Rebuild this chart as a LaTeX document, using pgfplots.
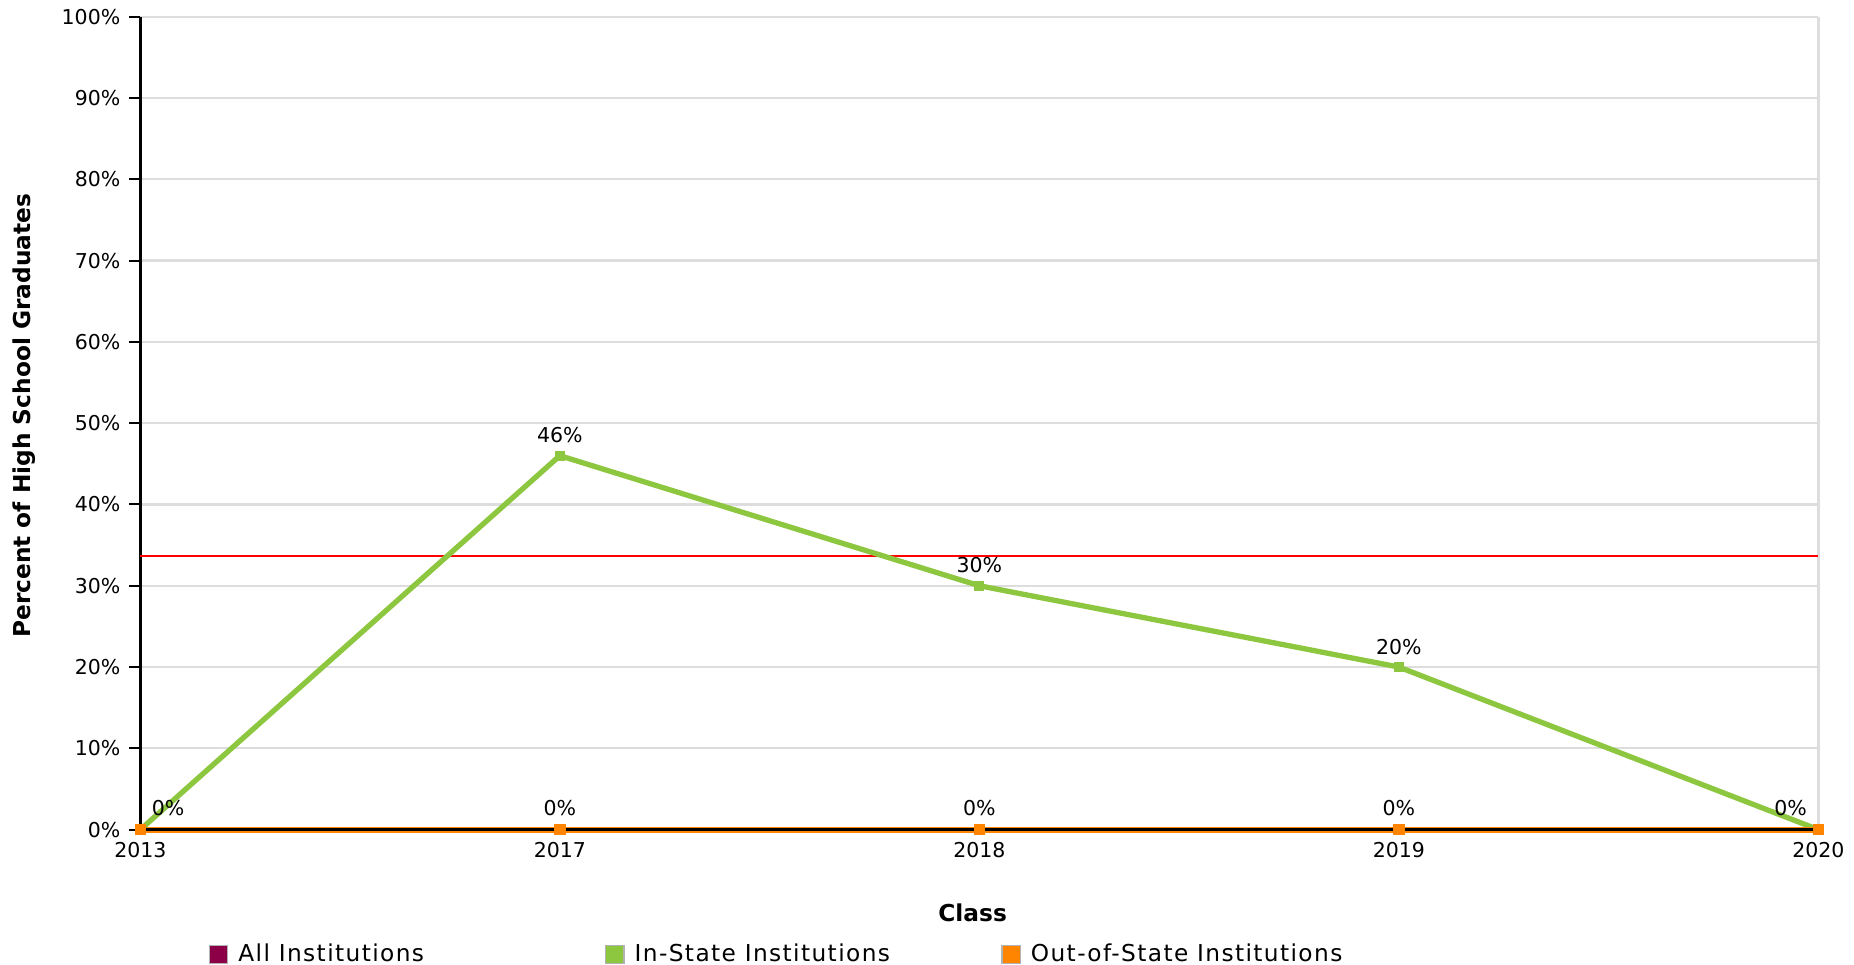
\documentclass[border=0pt]{standalone}
\usepackage{pgfplots}
\pgfplotsset{compat=1.18}
\usepackage{pgfplotstable}
\usepackage{fontspec}
\setmainfont{DejaVu Sans}
\newfontfamily\legendfont[LetterSpace=6]{DejaVu Sans}
\definecolor{allInst}{HTML}{8C0048}
\definecolor{inState}{HTML}{8DC63F}
\definecolor{outState}{HTML}{FF8400}
\definecolor{gridGray}{HTML}{DDDDDD}

% categories at 0..4: 2013, 2017, 2018, 2019, 2020
\pgfplotstableread{
x all instate outstate dx
0 0 0 0 11
1 0 46 0 0
2 0 30 0 0
3 0 20 0 0
4 0 0 0 -11
}\rates

\begin{document}
\begin{tikzpicture}
\begin{axis}[
    scale only axis,
    width=663.6pt,
    height=321.5pt,
    xmin=0, xmax=4,
    ymin=0, ymax=100,
    clip=false,
    axis x line*=bottom,
    axis y line*=left,
    axis line style={black, line width=1pt, -},
    xtick={0,1,2,3,4},
    xticklabels={2013,2017,2018,2019,2020},
    x tick style={draw=none},
    ytick={0,10,...,100},
    yticklabel={\pgfmathprintnumber{\tick}\%},
    y tick style={black, line width=0.8pt},
    tick align=outside,
    major tick length=4.4pt,
    ymajorgrids=true,
    grid style={gridGray, line width=0.9pt},
    extra x ticks={4},
    extra x tick labels={},
    extra x tick style={grid=major, tick style={draw=none}},
    tick label style={font=\fontsize{8.1}{9}\selectfont},
    xticklabel style={yshift=3pt},
    /pgf/number format/assume math mode=true,
    xlabel={Class},
    ylabel={Percent of High School Graduates},
    every axis x label/.style={at={(axis description cs:0.496,-0.102)}, anchor=center,
        font=\fontsize{9.2}{10}\selectfont\bfseries},
    every axis y label/.style={at={(axis description cs:-0.0694,0.509)}, rotate=90, anchor=center,
        font=\fontsize{9.2}{10}\selectfont\bfseries},
    legend columns=3,
    legend style={at={(axis description cs:0.036,-0.1535)}, anchor=west, draw=none, fill=none,
        font=\fontsize{9.2}{10}\legendfont, column sep=2pt},
    legend cell align=left,
]
% target line
\addplot[red, line width=0.8pt, forget plot] coordinates {(0,33.6) (4,33.6)};

\addplot[allInst, line width=2.1pt, mark=square*, mark size=0.9pt,
    legend image code/.code={\draw[draw=gray!60, line width=0.5pt, fill=allInst] (0pt,-3.6pt) rectangle (7.2pt,3.6pt);}]
    table[x=x, y=all] {\rates};
\addlegendentry{\makebox[141pt][l]{All Institutions}}

\addplot[inState, line width=2.1pt, mark=square*, mark size=0.9pt,
    legend image code/.code={\draw[draw=gray!60, line width=0.5pt, fill=inState] (0pt,-3.6pt) rectangle (7.2pt,3.6pt);}]
    table[x=x, y=instate] {\rates};
\addlegendentry{\makebox[141pt][l]{In-State Institutions}}

\addplot[outState, line width=2.3pt, mark=square*, mark size=1.1pt,
    visualization depends on={\thisrow{dx} \as \dx},
    nodes near coords={0\%},
    every node near coord/.append style={black, font=\fontsize{8.1}{9}\selectfont, xshift=\dx pt, yshift=1pt},
    legend image code/.code={\draw[draw=gray!60, line width=0.5pt, fill=outState] (0pt,-3.6pt) rectangle (7.2pt,3.6pt);}]
    table[x=x, y=outstate] {\rates};
\addlegendentry{Out-of-State Institutions}

% value labels of the in-state series
\addplot[draw=none, forget plot, nodes near coords={\pgfmathprintnumber{\pgfplotspointmeta}\%},
    point meta=y,
    every node near coord/.append style={black, font=\fontsize{8.1}{9}\selectfont, yshift=1.5pt}]
    coordinates {(1,46) (2,30) (3,20)};

% black base line on top of the zero series
\addplot[black, line width=0.9pt, forget plot] coordinates {(0,0) (4,0)};
\end{axis}
% page margins of the reference around the plot area
\pgfresetboundingbox
\path ([xshift=-55.5pt, yshift=-53.3pt]current axis.south west) rectangle ([xshift=14.1pt, yshift=6.6pt]current axis.north east);
\end{tikzpicture}
\end{document}
